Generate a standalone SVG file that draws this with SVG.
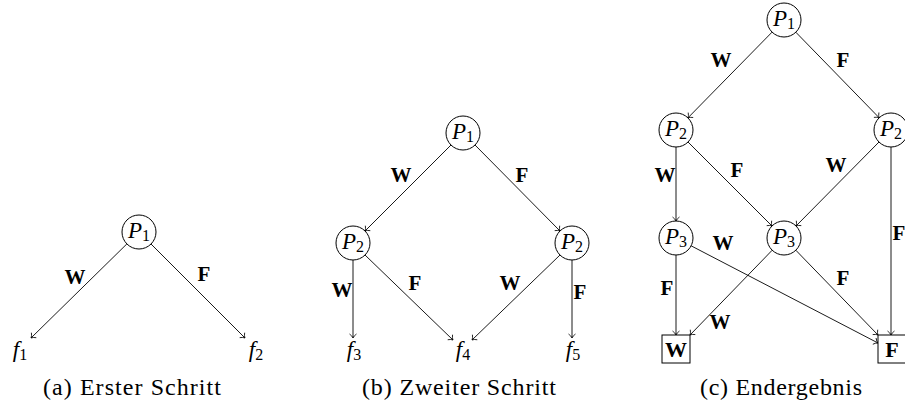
<svg xmlns="http://www.w3.org/2000/svg" width="905" height="413" viewBox="0 0 905 413">
<defs>
<marker id="a" markerWidth="10" markerHeight="10" refX="9" refY="5" orient="auto" markerUnits="userSpaceOnUse">
<path d="M5,1.5 Q7,4.3 9,5 Q7,5.7 5,8.5" fill="none" stroke="#000" stroke-width="0.8"/>
</marker>
</defs>
<g id="connectors" fill="none" stroke="#000" stroke-width="0.9">
<line marker-end="url(#a)" x1="126.9" y1="243.9" x2="31" y2="338"/>
<line marker-end="url(#a)" x1="151" y1="244" x2="245" y2="338"/>
<line marker-end="url(#a)" x1="451" y1="145" x2="365" y2="231"/>
<line marker-end="url(#a)" x1="475" y1="145" x2="560" y2="231"/>
<line marker-end="url(#a)" x1="353" y1="260" x2="353" y2="338"/>
<line marker-end="url(#a)" x1="365" y1="255" x2="453" y2="340"/>
<line marker-end="url(#a)" x1="560" y1="255" x2="472" y2="340"/>
<line marker-end="url(#a)" x1="572" y1="260" x2="572" y2="338"/>
<line marker-end="url(#a)" x1="772.1" y1="32.1" x2="687.9" y2="117.9"/>
<line marker-end="url(#a)" x1="795.8" y1="32.2" x2="879.2" y2="117.8"/>
<line marker-end="url(#a)" x1="676" y1="147" x2="676" y2="221"/>
<line marker-end="url(#a)" x1="688" y1="142" x2="772" y2="226"/>
<line marker-end="url(#a)" x1="879" y1="142" x2="796" y2="226"/>
<line marker-end="url(#a)" x1="891" y1="147" x2="891" y2="335"/>
<line marker-end="url(#a)" x1="676" y1="255" x2="676" y2="335"/>
<line marker-end="url(#a)" x1="691.1" y1="245.8" x2="878" y2="343"/>
<line marker-end="url(#a)" x1="795.8" y1="250.2" x2="878" y2="335"/>
<line marker-end="url(#a)" x1="772.2" y1="250.2" x2="690" y2="335"/>
</g>
<g id="edge-labels">
<text font-family="Liberation Serif" font-weight="bold" font-size="21" text-anchor="middle" x="75" y="284">W</text>
<text font-family="Liberation Serif" font-weight="bold" font-size="21" text-anchor="middle" x="204" y="281">F</text>
<text font-family="Liberation Serif" font-weight="bold" font-size="21" text-anchor="middle" x="401" y="182">W</text>
<text font-family="Liberation Serif" font-weight="bold" font-size="21" text-anchor="middle" x="522" y="182">F</text>
<text font-family="Liberation Serif" font-weight="bold" font-size="21" text-anchor="middle" x="342" y="297">W</text>
<text font-family="Liberation Serif" font-weight="bold" font-size="21" text-anchor="middle" x="415" y="290">F</text>
<text font-family="Liberation Serif" font-weight="bold" font-size="21" text-anchor="middle" x="510" y="290">W</text>
<text font-family="Liberation Serif" font-weight="bold" font-size="21" text-anchor="middle" x="580" y="299">F</text>
<text font-family="Liberation Serif" font-weight="bold" font-size="21" text-anchor="middle" x="721" y="67">W</text>
<text font-family="Liberation Serif" font-weight="bold" font-size="21" text-anchor="middle" x="843" y="67">F</text>
<text font-family="Liberation Serif" font-weight="bold" font-size="21" text-anchor="middle" x="665" y="182">W</text>
<text font-family="Liberation Serif" font-weight="bold" font-size="21" text-anchor="middle" x="737" y="177">F</text>
<text font-family="Liberation Serif" font-weight="bold" font-size="21" text-anchor="middle" x="836" y="172">W</text>
<text font-family="Liberation Serif" font-weight="bold" font-size="21" text-anchor="middle" x="899" y="240">F</text>
<text font-family="Liberation Serif" font-weight="bold" font-size="21" text-anchor="middle" x="667" y="295">F</text>
<text font-family="Liberation Serif" font-weight="bold" font-size="21" text-anchor="middle" x="723" y="250">W</text>
<text font-family="Liberation Serif" font-weight="bold" font-size="21" text-anchor="middle" x="720" y="329">W</text>
<text font-family="Liberation Serif" font-weight="bold" font-size="21" text-anchor="middle" x="843" y="285">F</text>
</g>
<g id="a-P1"><circle fill="#fff" stroke="#000" cx="139" cy="232" r="17"/><text font-family="Liberation Serif" font-style="italic" font-size="23" text-anchor="middle" x="139" y="238">P<tspan font-style="normal" font-size="16" dy="3">1</tspan></text></g>
<g id="a-f1"><text font-family="Liberation Serif" font-style="italic" font-size="23" text-anchor="middle" x="20" y="357">f<tspan font-style="normal" font-size="16" dy="3">1</tspan></text></g>
<g id="a-f2"><text font-family="Liberation Serif" font-style="italic" font-size="23" text-anchor="middle" x="256" y="357">f<tspan font-style="normal" font-size="16" dy="3">2</tspan></text></g>
<g id="b-P1"><circle fill="#fff" stroke="#000" cx="463" cy="133" r="17"/><text font-family="Liberation Serif" font-style="italic" font-size="23" text-anchor="middle" x="463" y="139">P<tspan font-style="normal" font-size="16" dy="3">1</tspan></text></g>
<g id="b-P2L"><circle fill="#fff" stroke="#000" cx="353" cy="243" r="17"/><text font-family="Liberation Serif" font-style="italic" font-size="23" text-anchor="middle" x="353" y="249">P<tspan font-style="normal" font-size="16" dy="3">2</tspan></text></g>
<g id="b-P2R"><circle fill="#fff" stroke="#000" cx="572" cy="243" r="17"/><text font-family="Liberation Serif" font-style="italic" font-size="23" text-anchor="middle" x="572" y="249">P<tspan font-style="normal" font-size="16" dy="3">2</tspan></text></g>
<g id="b-f3"><text font-family="Liberation Serif" font-style="italic" font-size="23" text-anchor="middle" x="354" y="357">f<tspan font-style="normal" font-size="16" dy="3">3</tspan></text></g>
<g id="b-f4"><text font-family="Liberation Serif" font-style="italic" font-size="23" text-anchor="middle" x="463" y="357">f<tspan font-style="normal" font-size="16" dy="3">4</tspan></text></g>
<g id="b-f5"><text font-family="Liberation Serif" font-style="italic" font-size="23" text-anchor="middle" x="573" y="357">f<tspan font-style="normal" font-size="16" dy="3">5</tspan></text></g>
<g id="c-P1"><circle fill="#fff" stroke="#000" cx="784" cy="20" r="17"/><text font-family="Liberation Serif" font-style="italic" font-size="23" text-anchor="middle" x="784" y="26">P<tspan font-style="normal" font-size="16" dy="3">1</tspan></text></g>
<g id="c-P2L"><circle fill="#fff" stroke="#000" cx="676" cy="130" r="17"/><text font-family="Liberation Serif" font-style="italic" font-size="23" text-anchor="middle" x="676" y="136">P<tspan font-style="normal" font-size="16" dy="3">2</tspan></text></g>
<g id="c-P2R"><circle fill="#fff" stroke="#000" cx="891" cy="130" r="17"/><text font-family="Liberation Serif" font-style="italic" font-size="23" text-anchor="middle" x="891" y="136">P<tspan font-style="normal" font-size="16" dy="3">2</tspan></text></g>
<g id="c-P3L"><circle fill="#fff" stroke="#000" cx="676" cy="238" r="17"/><text font-family="Liberation Serif" font-style="italic" font-size="23" text-anchor="middle" x="676" y="244">P<tspan font-style="normal" font-size="16" dy="3">3</tspan></text></g>
<g id="c-P3R"><circle fill="#fff" stroke="#000" cx="784" cy="238" r="17"/><text font-family="Liberation Serif" font-style="italic" font-size="23" text-anchor="middle" x="784" y="244">P<tspan font-style="normal" font-size="16" dy="3">3</tspan></text></g>
<g id="c-W"><rect fill="#fff" stroke="#000" x="662" y="335" width="28" height="28"/><text font-family="Liberation Serif" font-weight="bold" font-size="22" text-anchor="middle" x="676" y="357">W</text></g>
<g id="c-F"><rect fill="#fff" stroke="#000" x="878" y="335" width="28" height="28"/><text font-family="Liberation Serif" font-weight="bold" font-size="22" text-anchor="middle" x="892" y="357">F</text></g>
<g id="captions">
<text font-family="Liberation Serif" font-size="24" text-anchor="middle" x="132" y="395" textLength="178" lengthAdjust="spacing">(a) Erster Schritt</text>
<text font-family="Liberation Serif" font-size="24" text-anchor="middle" x="459" y="395" textLength="194" lengthAdjust="spacing">(b) Zweiter Schritt</text>
<text font-family="Liberation Serif" font-size="24" text-anchor="middle" x="781" y="395" textLength="162" lengthAdjust="spacing">(c) Endergebnis</text>
</g>
</svg>
